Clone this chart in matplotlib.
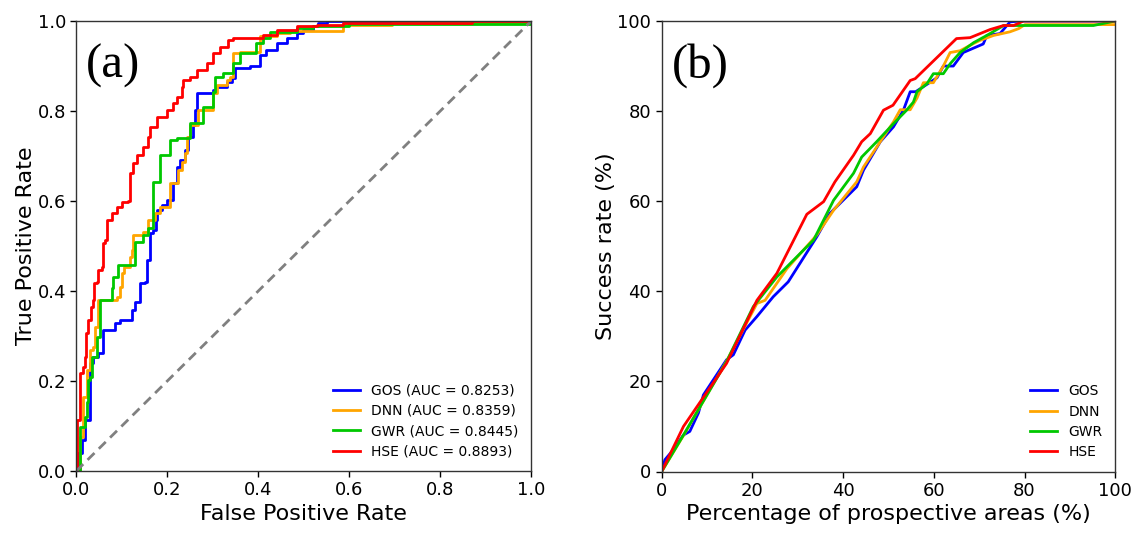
import matplotlib
matplotlib.use("Agg")
import matplotlib.pyplot as plt
import numpy as np

# ---------------- Panel (a): ROC curves (step points) ----------------
gos_fpr = [0, 0.004, 0.012, 0.019, 0.030, 0.037, 0.048, 0.059, 0.085, 0.096, 0.122, 0.129, 0.140, 0.151,
           0.155, 0.162, 0.169, 0.175, 0.177, 0.188, 0.199, 0.213, 0.221, 0.228, 0.239, 0.246, 0.257, 0.261,
           0.265, 0.301, 0.308, 0.331, 0.342, 0.349, 0.382, 0.404, 0.418, 0.440, 0.462, 0.484, 0.498, 0.520,
           0.532, 0.550, 1.0]
gos_tpr = [0, 0.039, 0.069, 0.113, 0.239, 0.254, 0.262, 0.313, 0.328, 0.336, 0.358, 0.376, 0.417, 0.421,
           0.469, 0.528, 0.536, 0.558, 0.580, 0.591, 0.602, 0.639, 0.676, 0.691, 0.713, 0.743, 0.769, 0.802,
           0.839, 0.847, 0.854, 0.865, 0.873, 0.895, 0.899, 0.924, 0.936, 0.951, 0.962, 0.973, 0.980, 0.988,
           0.995, 1.0, 1.0]

dnn_fpr = [0, 0.008, 0.015, 0.023, 0.030, 0.037, 0.041, 0.048, 0.089, 0.096, 0.100, 0.104, 0.118, 0.122,
           0.125, 0.147, 0.158, 0.173, 0.184, 0.206, 0.224, 0.232, 0.239, 0.243, 0.250, 0.268, 0.301, 0.309,
           0.331, 0.338, 0.345, 0.360, 0.404, 0.440, 0.470, 0.587, 0.693, 1.0]
dnn_tpr = [0, 0.076, 0.165, 0.224, 0.269, 0.276, 0.321, 0.380, 0.387, 0.410, 0.439, 0.454, 0.476, 0.491,
           0.524, 0.532, 0.558, 0.573, 0.587, 0.639, 0.669, 0.687, 0.706, 0.743, 0.769, 0.802, 0.839, 0.858,
           0.869, 0.876, 0.928, 0.932, 0.966, 0.973, 0.978, 0.991, 0.995, 1.0]

gwr_fpr = [0, 0.008, 0.019, 0.023, 0.026, 0.030, 0.034, 0.045, 0.052, 0.078, 0.081, 0.092, 0.129, 0.147,
           0.158, 0.169, 0.184, 0.206, 0.221, 0.250, 0.279, 0.301, 0.305, 0.323, 0.345, 0.360, 0.396, 0.411,
           0.425, 0.484, 0.520, 0.600, 1.0]
gwr_tpr = [0, 0.098, 0.121, 0.154, 0.202, 0.209, 0.254, 0.298, 0.380, 0.406, 0.432, 0.458, 0.510, 0.524,
           0.540, 0.643, 0.702, 0.736, 0.741, 0.773, 0.810, 0.843, 0.876, 0.884, 0.906, 0.928, 0.951, 0.962,
           0.976, 0.984, 0.988, 0.993, 1.0]

hse_fpr = [0, 0.002, 0.008, 0.008, 0.014, 0.019, 0.021, 0.026, 0.032, 0.036, 0.039, 0.045, 0.048, 0.056,
           0.059, 0.063, 0.067, 0.078, 0.089, 0.100, 0.114, 0.118, 0.125, 0.133, 0.147, 0.158, 0.162, 0.177,
           0.199, 0.213, 0.221, 0.232, 0.235, 0.250, 0.265, 0.287, 0.301, 0.316, 0.334, 0.345, 0.411, 0.440,
           0.484, 0.528, 0.587, 0.869, 1.0]
hse_tpr = [0, 0.113, 0.120, 0.217, 0.232, 0.254, 0.306, 0.336, 0.365, 0.380, 0.417, 0.421, 0.447, 0.454,
           0.506, 0.513, 0.558, 0.573, 0.587, 0.598, 0.600, 0.662, 0.684, 0.702, 0.721, 0.743, 0.765, 0.787,
           0.802, 0.817, 0.832, 0.854, 0.869, 0.875, 0.891, 0.906, 0.928, 0.943, 0.958, 0.962, 0.969, 0.980,
           0.988, 0.991, 0.996, 1.0, 1.0]

roc_labels = ["GOS (AUC = 0.8253)", "DNN (AUC = 0.8359)", "GWR (AUC = 0.8445)", "HSE (AUC = 0.8893)"]

# ---------------- Panel (b): success-rate curves ----------------
gos_area = [0, 0.7, 2.2, 4.8, 6.2, 8.1, 9.2, 14.3, 15.8, 18.4, 21, 24.6, 27.9, 34.2, 37.1, 40.8, 43, 44.5,
            48.2, 51.1, 53.3, 54.8, 56.0, 60.7, 62.1, 64.3, 66.5, 70.9, 71.7, 74.6, 76.8, 79, 100]
gos_rate = [0, 2.6, 4.4, 8.1, 8.9, 13, 17, 24.8, 25.9, 31.4, 34.4, 38.8, 42.1, 52.1, 57.3, 61, 63.2, 66.9,
            73.2, 76.5, 80.2, 84.3, 84.3, 87.4, 90, 90, 93, 94.9, 96.8, 97.2, 99.8, 100, 100]

dnn_area = [0, 4.8, 14.3, 21, 22.8, 27.6, 34.2, 37.9, 43, 44.5, 47.4, 51.1, 52.6, 54.8, 56.3, 57.7, 59.9,
            62.1, 63.6, 65.8, 68, 70.2, 73.2, 76.8, 78.7, 80.1, 100]
dnn_rate = [0, 8.0, 24.5, 37.3, 38, 45, 52.5, 58, 64.3, 67.6, 72, 77.6, 80.3, 80.3, 82.9, 86.3, 86.3,
            90, 93, 93.4, 94.6, 95.7, 96.8, 97.6, 98.3, 99.2, 99.2]

gwr_area = [0, 4.8, 14.3, 20.2, 25.4, 33.5, 37.9, 42.3, 44.1, 47.4, 51.1, 54, 55.5, 56.3, 58.5, 59.9, 62.1,
            63.6, 65.8, 68.8, 71.7, 75.4, 79.8, 95.2, 100]
gwr_rate = [0, 8.1, 24.4, 36.6, 43.2, 51.4, 60.2, 66.2, 69.8, 73.2, 77.2, 80.2, 82, 84.3, 86.1, 88.3, 88.3,
            90.5, 93, 95.2, 96.8, 99, 99, 99, 100]

hse_area = [0, 4.8, 14.3, 21, 25.4, 32, 35.7, 38.2, 42.3, 44.1, 46, 48.9, 51, 54.8, 55.9, 65, 68, 70.2,
            72.4, 75.4, 77.6, 79.8, 100]
hse_rate = [0, 10, 24, 38, 44, 57.1, 59.9, 64.3, 70.2, 73.2, 75, 80.2, 81.3, 86.8, 87.2, 96.1, 96.3, 97.2,
            98.1, 99, 99, 100, 100]

sr_labels = ["GOS", "DNN", "GWR", "HSE"]
colors = ["#0000FF", "#FFA500", "#00C800", "#FF0000"]

ticks_a = [0.0, 0.2, 0.4, 0.6, 0.8, 1.0]
ticks_b = [0, 20, 40, 60, 80, 100]

W, H = 1141, 538
fig = plt.figure(figsize=(W / 100, H / 100), dpi=100)
plt.rcParams['font.family'] = ['DejaVu Sans']

ax1 = fig.add_axes([76.3 / W, (H - 471) / H, 455 / W, 450 / H])
ax2 = fig.add_axes([661.7 / W, (H - 471.5) / H, 453.5 / W, 450.5 / H])

lw = 2.0
roc_sets = [(gos_fpr, gos_tpr), (dnn_fpr, dnn_tpr), (gwr_fpr, gwr_tpr), (hse_fpr, hse_tpr)]
for (fx, ty), lab, c in zip(roc_sets, roc_labels, colors):
    ax1.plot(fx, ty, drawstyle='steps-post', color=c, lw=lw, label=lab)
ax1.plot([0, 1], [0, 1], linestyle='--', color='gray', lw=2.0, dashes=(3.5, 2.2))
ax1.set_xlim(0, 1)
ax1.set_ylim(0, 1)
ax1.set_xticks(ticks_a)
ax1.set_yticks(ticks_a)
ax1.set_xticklabels([f"{t:.1f}" for t in ticks_a])
ax1.set_yticklabels([f"{t:.1f}" for t in ticks_a])
ax1.set_xlabel("False Positive Rate", fontsize=16, labelpad=3)
ax1.set_ylabel("True Positive Rate", fontsize=16, labelpad=1)
ax1.legend(loc='lower right', frameon=False, fontsize=10, handlelength=2.0, labelspacing=0.45)
ax1.text(0.021, 0.95, "(a)", transform=ax1.transAxes, fontsize=35,
         family='Liberation Serif', ha='left', va='top')

sr_sets = [(gos_area, gos_rate), (dnn_area, dnn_rate), (gwr_area, gwr_rate), (hse_area, hse_rate)]
for (ax_, ry), lab, c in zip(sr_sets, sr_labels, colors):
    ax2.plot(ax_, ry, color=c, lw=lw, label=lab)
ax2.set_xlim(0, 100)
ax2.set_ylim(0, 100)
ax2.set_xticks(ticks_b)
ax2.set_yticks(ticks_b)
ax2.set_xlabel("Percentage of prospective areas (%)", fontsize=16, labelpad=3)
ax2.set_ylabel("Success rate (%)", fontsize=16, labelpad=1)
ax2.legend(loc='lower right', frameon=False, fontsize=10, handlelength=2.0, labelspacing=0.45)
ax2.text(0.022, 0.95, "(b)", transform=ax2.transAxes, fontsize=35,
         family='Liberation Serif', ha='left', va='top')

for ax in (ax1, ax2):
    ax.tick_params(labelsize=13, length=4, width=1)
    for s in ax.spines.values():
        s.set_linewidth(1.0)
        s.set_color('#333333')

fig.savefig("out.png", dpi=100)
